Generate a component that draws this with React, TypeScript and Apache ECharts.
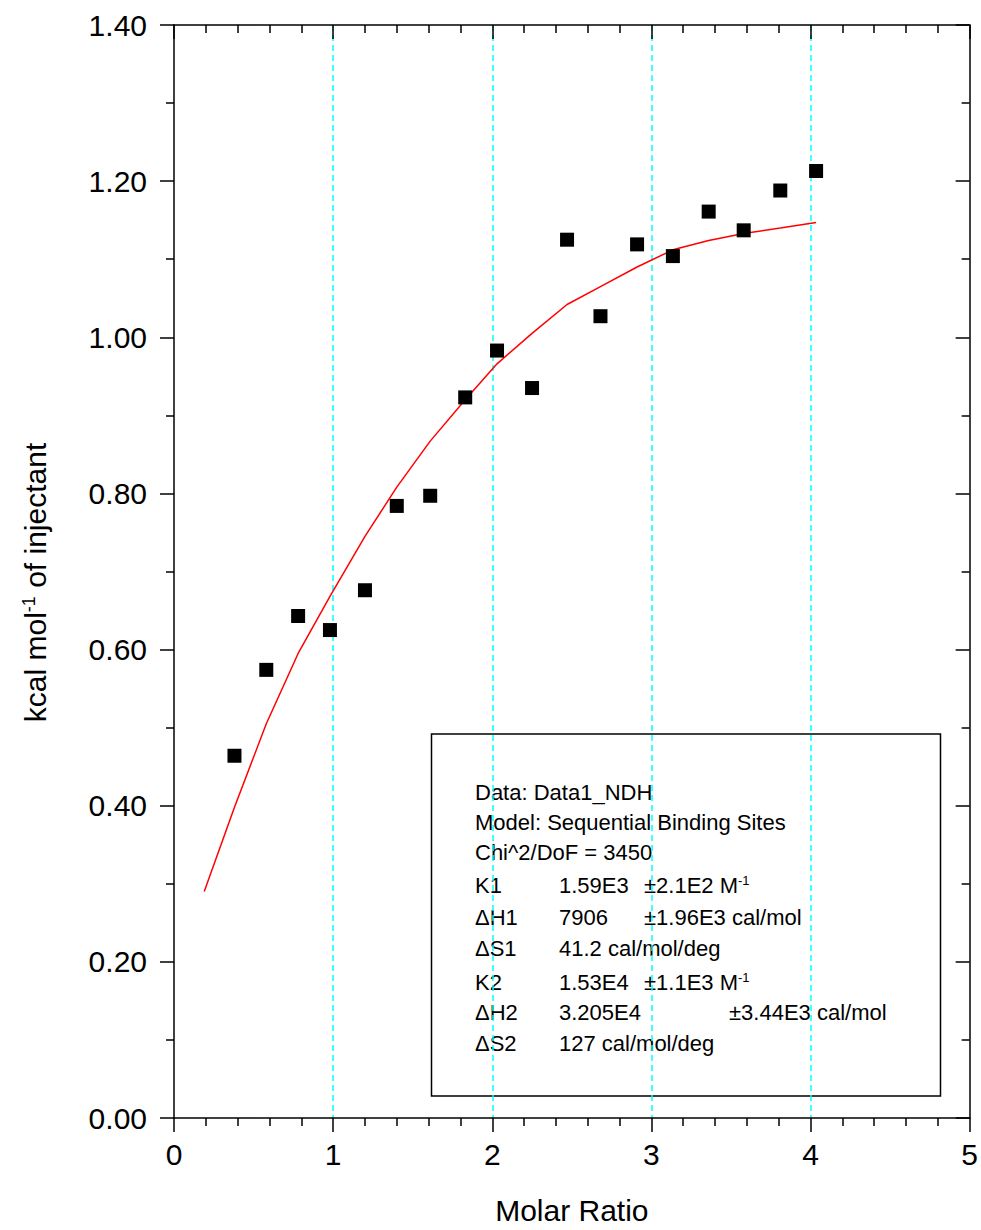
import React, { useEffect, useRef } from "react";
import * as echarts from "echarts";

// ---- Data ----
const molarRatio = [0.38, 0.58, 0.78, 0.98, 1.2, 1.4, 1.61, 1.83, 2.03, 2.25, 2.47, 2.68, 2.91, 3.135, 3.36, 3.58, 3.81, 4.035];
const heatPerInjectant = [0.464, 0.574, 0.643, 0.625, 0.676, 0.784, 0.797, 0.923, 0.983, 0.935, 1.125, 1.027, 1.119, 1.104, 1.161, 1.137, 1.188, 1.213];
const fitMolarRatio = [0.19, 0.38, 0.58, 0.78, 0.98, 1.2, 1.4, 1.61, 1.83, 2.03, 2.25, 2.47, 2.68, 2.91, 3.135, 3.36, 3.58, 3.81, 4.035];
const fitHeat = [0.29, 0.398, 0.505, 0.595, 0.668, 0.745, 0.808, 0.867, 0.92, 0.966, 1.005, 1.042, 1.065, 1.09, 1.112, 1.124, 1.133, 1.14, 1.147];
const xTickLabels = ["0", "1", "2", "3", "4", "5"];
const yTickLabels = ["0.00", "0.20", "0.40", "0.60", "0.80", "1.00", "1.20", "1.40"];
const fitReport = [
  ["Data: Data1_NDH"],
  ["Model: Sequential Binding Sites"],
  ["Chi^2/DoF = 3450"],
  ["K1", "1.59E3", "±2.1E2 M{sup|-1}"],
  ["ΔH1", "7906", "±1.96E3 cal/mol"],
  ["ΔS1", "41.2 cal/mol/deg"],
  ["K2", "1.53E4", "±1.1E3 M{sup|-1}"],
  ["ΔH2", "3.205E4", "", "±3.44E3 cal/mol"],
  ["ΔS2", "127 cal/mol/deg"],
];

// ---- Layout ----
const FONT = "'Liberation Sans', Arial, sans-serif";
const reportColumnX = [475, 559, 644, 729];
const reportLineY = [792, 822, 852, 885, 917, 948, 982, 1012, 1043];

export default function App() {
  const ref = useRef<HTMLDivElement>(null);

  useEffect(() => {
    if (!ref.current) return;
    const chart = echarts.init(ref.current, null, { renderer: "svg" });

    const axisLineStyle = { color: "#000", width: 1.5 };
    const labelStyle = { fontFamily: FONT, fontSize: 30, color: "#000" };

    const reportTexts: any[] = [];
    fitReport.forEach((cols, i) => {
      cols.forEach((t, j) => {
        if (!t) return;
        reportTexts.push({
          type: "text",
          x: reportColumnX[j],
          y: reportLineY[i],
          style: {
            text: t,
            fill: "#000",
            font: `22px ${FONT}`,
            verticalAlign: "middle",
            align: "left",
            rich: {
              sup: { fontSize: 13, fontFamily: FONT, fill: "#000", verticalAlign: "top" },
            },
          },
        });
      });
    });

    const option: any = {
      animation: false,
      backgroundColor: "#fff",
      grid: { left: 174, right: 8, top: 25, bottom: 108, containLabel: false },
      xAxis: [
        {
          type: "value",
          position: "bottom",
          min: 0,
          max: 5,
          interval: 1,
          name: "Molar Ratio",
          nameLocation: "middle",
          nameGap: 77,
          nameTextStyle: { ...labelStyle },
          axisLine: { show: true, onZero: false, lineStyle: axisLineStyle },
          axisTick: { show: true, inside: false, length: 14, lineStyle: axisLineStyle },
          minorTick: { show: true, splitNumber: 5, length: 8, lineStyle: axisLineStyle },
          axisLabel: {
            ...labelStyle,
            margin: 21,
            formatter: (v: number) => xTickLabels[Math.round(v)] ?? "",
          },
          splitLine: {
            show: true,
            showMinLine: false,
            showMaxLine: false,
            lineStyle: { color: "#00FFFF", type: [6, 4], width: 1.5 },
          },
        },
        {
          type: "value",
          position: "top",
          min: 0,
          max: 5,
          interval: 1,
          axisLine: { show: true, onZero: false, lineStyle: axisLineStyle },
          axisTick: { show: true, inside: true, length: 14, lineStyle: axisLineStyle },
          minorTick: { show: true, splitNumber: 5, length: 8, lineStyle: axisLineStyle },
          axisLabel: { show: false },
          splitLine: { show: false },
        },
      ],
      yAxis: [
        {
          type: "value",
          position: "left",
          min: 0,
          max: 1.4,
          interval: 0.2,
          name: "{t|kcal mol}{sup|-1}{t| of injectant}",
          nameLocation: "middle",
          nameGap: 124,
          nameTextStyle: {
            padding: [0, 22, 0, 0],
            rich: {
              t: { fontFamily: FONT, fontSize: 30, color: "#000" },
              sup: { fontFamily: FONT, fontSize: 18, color: "#000", verticalAlign: "top" },
            },
          },
          axisLine: { show: true, onZero: false, lineStyle: axisLineStyle },
          axisTick: { show: true, inside: false, length: 14, lineStyle: axisLineStyle },
          minorTick: { show: true, splitNumber: 2, length: 8, lineStyle: axisLineStyle },
          axisLabel: {
            ...labelStyle,
            margin: 27,
            formatter: (v: number) => yTickLabels[Math.round(v / 0.2)] ?? "",
          },
          splitLine: { show: false },
        },
        {
          type: "value",
          position: "right",
          min: 0,
          max: 1.4,
          interval: 0.2,
          axisLine: { show: true, onZero: false, lineStyle: axisLineStyle },
          axisTick: { show: true, inside: true, length: 14, lineStyle: axisLineStyle },
          minorTick: { show: true, splitNumber: 2, length: 8, lineStyle: axisLineStyle },
          axisLabel: { show: false },
          splitLine: { show: false },
        },
      ],
      series: [
        {
          name: "Fit",
          type: "line",
          xAxisIndex: 0,
          yAxisIndex: 0,
          data: fitMolarRatio.map((x, i) => [x, fitHeat[i]]),
          showSymbol: false,
          symbol: "none",
          lineStyle: { color: "#FF0000", width: 1.5 },
          z: 3,
        },
        {
          name: "Data",
          type: "scatter",
          xAxisIndex: 0,
          yAxisIndex: 0,
          data: molarRatio.map((x, i) => [x, heatPerInjectant[i]]),
          symbol: "rect",
          symbolSize: 14,
          itemStyle: { color: "#000", opacity: 1 },
          z: 4,
        },
      ],
      graphic: [
        {
          type: "group",
          z: 10,
          children: [
            {
              type: "rect",
              shape: { x: 431.5, y: 734, width: 509, height: 362 },
              style: { fill: "#fff", stroke: "#000", lineWidth: 1.5 },
            },
            ...reportTexts,
          ],
        },
      ],
    };

    chart.setOption(option);
    return () => chart.dispose();
  }, []);

  return (
    <div
      ref={ref}
      style={{ position: "absolute", left: 0, top: 0, width: 981, height: 1230 }}
    />
  );
}
